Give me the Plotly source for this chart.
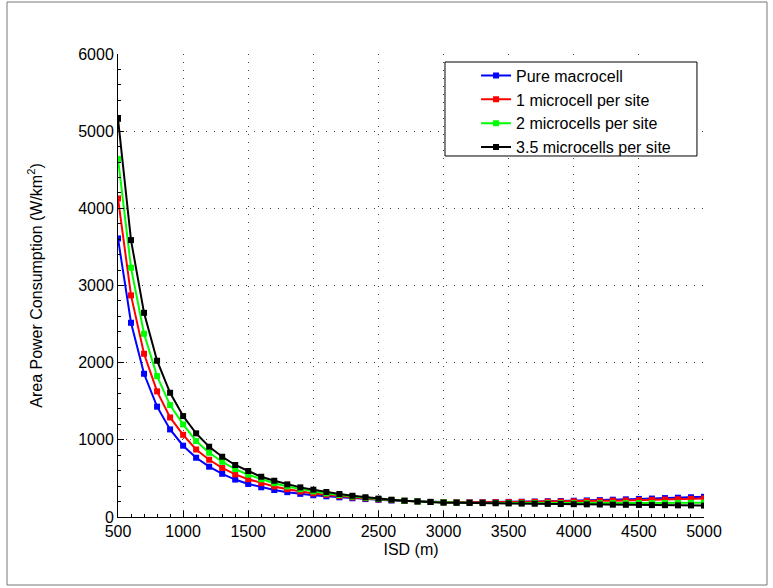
import plotly.graph_objects as go

isd = list(range(500, 5001, 100))

pure_macro = [3610, 2517, 1856, 1430, 1135, 924, 768, 652, 560, 485, 428, 385, 350, 322, 300, 282,
              268, 255, 243, 232, 223, 214, 207, 201, 196, 193,
              192, 192, 193, 194, 196, 198, 201, 204, 207, 211, 215, 219, 224, 229, 234, 239, 245, 250, 256, 262]
micro_1 = [4128, 2872, 2115, 1628, 1290, 1065, 875, 742, 636, 552, 490, 438, 395, 360, 330, 306,
           288, 270, 254, 241, 229, 218, 209, 201, 196, 191,
           190, 190, 190, 191, 192, 194, 196, 198, 200, 203, 206, 209, 212, 215, 219, 222, 226, 230, 235, 240]
micro_2 = [4641, 3230, 2374, 1826, 1450, 1200, 985, 833, 716, 620, 548, 488, 438, 396, 360, 332,
           306, 284, 265, 249, 234, 221, 210, 201, 195, 189,
           186, 184, 183, 182, 181, 180, 180, 179, 179, 179, 179, 179, 180, 180, 181, 181, 182, 183, 184, 185]
micro_35 = [5160, 3588, 2646, 2025, 1610, 1308, 1084, 911, 781, 674, 596, 522, 470, 423, 384, 354,
            324, 298, 275, 256, 238, 224, 212, 202, 194, 186,
            184, 182, 180, 178, 176, 174, 172, 170, 168, 166, 164, 162, 160, 158, 156, 154, 153, 151, 150, 148]

series_names = ["Pure macrocell", "1 microcell per site", "2 microcells per site", "3.5 microcells per site"]
series_values = [pure_macro, micro_1, micro_2, micro_35]
series_colors = ["#0000FF", "#FF0000", "#00FF00", "#000000"]

x_ticks = [500, 1000, 1500, 2000, 2500, 3000, 3500, 4000, 4500, 5000]
y_ticks = [0, 1000, 2000, 3000, 4000, 5000, 6000]

FONT = "Liberation Sans, Arial, Helvetica, sans-serif"

fig = go.Figure()
for name, vals, col in zip(series_names, series_values, series_colors):
    fig.add_trace(go.Scatter(
        x=isd, y=vals, name=name, mode="lines+markers",
        line=dict(color=col, width=2),
        marker=dict(symbol="square", size=6, color=col),
    ))

axis_common = dict(
    showline=True, linecolor="black", linewidth=1, mirror=False,
    ticks="inside", ticklen=6, tickcolor="black", tickwidth=1,
    showgrid=True, gridcolor="#444444", gridwidth=1, griddash="1px,7px",
    zeroline=False,
    tickfont=dict(family=FONT, size=16, color="black"),
)

fig.update_xaxes(
    range=[500, 5000], tickvals=x_ticks, ticktext=[str(v) for v in x_ticks],
    minor=dict(ticks="inside", ticklen=3, dtick=100, tickcolor="black", showgrid=False),
    title=dict(text="ISD (m)", font=dict(family=FONT, size=16, color="black"), standoff=4),
    **axis_common,
)
fig.update_yaxes(
    range=[0, 6000], tickvals=y_ticks, ticktext=[str(v) for v in y_ticks],
    minor=dict(ticks="inside", ticklen=3, dtick=200, tickcolor="black", showgrid=False),
    title=dict(text="Area Power Consumption (W/km<sup>2</sup>)",
               font=dict(family=FONT, size=16, color="black"), standoff=31),
    **axis_common,
)

# legend box (opaque white, black border) and outer figure frame
fig.add_shape(type="rect", xref="paper", yref="paper",
              x0=0.558, x1=0.988, y0=0.7797, y1=0.9827,
              fillcolor="white", line=dict(color="black", width=1), layer="above")
fig.add_shape(type="rect", xref="paper", yref="paper",
              x0=-0.1894, x1=1.1075, y0=-0.1469, y1=1.1123,
              fillcolor="rgba(0,0,0,0)", line=dict(color="#777777", width=1), layer="below")

fig.update_layout(
    width=773, height=588,
    margin=dict(l=118, r=69, t=54, b=71, autoexpand=False),
    paper_bgcolor="white", plot_bgcolor="white",
    font=dict(family=FONT, size=16, color="black"),
    showlegend=True,
    legend=dict(
        x=0.611, y=0.990, xanchor="left", yanchor="top",
        bgcolor="rgba(0,0,0,0)", borderwidth=0,
        font=dict(family=FONT, size=16, color="black"),
    ),
)

fig.write_html("out.html",
               config={"displayModeBar": False},
               post_script="document.body.style.margin='0';document.body.style.overflow='hidden';")
